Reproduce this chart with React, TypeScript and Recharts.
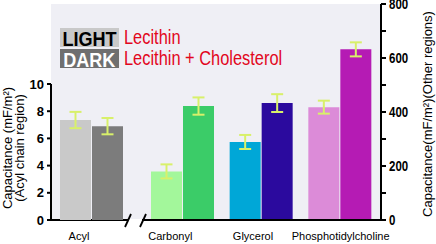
import {
    BarChart,
    Bar,
    XAxis,
    YAxis,
    ErrorBar,
    Cell,
    CartesianGrid,
    Legend,
    Customized,
} from "recharts";

// acyl chain region (left axis)
const acylNames = ["Acyl"];
const acylLight = [7.35];
const acylDark = [6.9];
const acylLightErr = [0.6];
const acylDarkErr = [0.6];

// other regions (right axis)
const regionNames = ["Carbonyl", "Glycerol", "Phosphotidylcholine"];
const lecithin = [180, 289, 418];
const lecithinChol = [422, 433, 632];
const lecithinErr = [26, 26, 24];
const lecithinCholErr = [32, 33, 26];

const leftTicks = [0, 2, 4, 6, 8, 10];
const rightTicks = [0, 100, 200, 300, 400, 500, 600, 700, 800];

const legendKeys = ["LIGHT", "DARK"];
const legendNames = ["Lecithin", "Lecithin + Cholesterol"];

const LIGHT_COLORS = ["#a3f79b", "#00a7d7", "#dc8bd8"];
const DARK_COLORS = ["#3bcc68", "#2b0a9e", "#b51bb4"];
const ACYL_LIGHT = "#c9c9c9";
const ACYL_DARK = "#7c7c7c";
const ERR = "#d8f06a";
const BG = "#efeff5";
const RED = "#e2061c";

const FONT = "'Liberation Sans', Arial, sans-serif";
// no narrow face installed, so condensed text is squeezed with scaleX
const SQUEEZE = 0.82;

const W = 436;
const H = 244;

// labels in the original sit a little off the group centres
const labelShift: Record<string, number> = {
    Acyl: -12,
    Carbonyl: -12,
    Glycerol: -8,
    Phosphotidylcholine: 1,
};

const acylRows = acylNames.map((name, i) => ({
    name,
    light: acylLight[i],
    dark: acylDark[i],
    lightErr: acylLightErr[i],
    darkErr: acylDarkErr[i],
}));

const regionRows = regionNames.map((name, i) => ({
    name,
    lecithin: lecithin[i],
    lecithinChol: lecithinChol[i],
    lecithinErr: lecithinErr[i],
    lecithinCholErr: lecithinCholErr[i],
}));

function CategoryTick({ x, y, payload }: any) {
    return (
        <text
            x={x + (labelShift[payload.value] ?? 0)}
            y={y}
            dy="0.71em"
            textAnchor="middle"
            fontFamily={FONT}
            fontSize={11}
            fill="#000"
        >
            {payload.value}
        </text>
    );
}

function RightTick({ x, y, payload }: any) {
    if (payload.value % 200 !== 0) return <g />;
    return (
        <text
            transform={`translate(${x},${y}) scale(${SQUEEZE},1)`}
            x={0}
            y={0}
            dy="0.36em"
            textAnchor="start"
            fontFamily={FONT}
            fontWeight={700}
            fontSize={14}
            fill="#000"
        >
            {payload.value}
        </text>
    );
}

function LeftLabel() {
    const cy = 148;
    return (
        <g fontFamily={FONT} fontSize={13} fill="#000">
            <text x={12} y={cy} transform={`rotate(-90 12 ${cy})`} textAnchor="middle">
                Capacitance (mF/m²)
            </text>
            <text x={23.5} y={cy} transform={`rotate(-90 23.5 ${cy})`} textAnchor="middle">
                (Acyl chain region)
            </text>
        </g>
    );
}

function RightLabel() {
    const cx = 432;
    const cy = 114;
    return (
        <text
            x={cx}
            y={cy}
            transform={`rotate(-90 ${cx} ${cy})`}
            textAnchor="middle"
            fontFamily={FONT}
            fontSize={13}
            fill="#000"
        >
            Capacitance(mF/m²)(Other regions)
        </text>
    );
}

function AxisBreak() {
    return (
        <g>
            <rect x={128} y={219} width={14} height={3} fill="#fff" />
            <line x1={125} y1={227} x2={131} y2={214} stroke="#000" strokeWidth={1.8} />
            <line x1={140} y1={227} x2={146} y2={214} stroke="#000" strokeWidth={1.8} />
        </g>
    );
}

function LegendBox() {
    return (
        <div style={{ fontFamily: FONT }}>
            {legendKeys.map((k, i) => (
                <div
                    key={k}
                    style={{
                        display: "flex",
                        alignItems: "center",
                        height: 19,
                        marginBottom: 2,
                    }}
                >
                    <div
                        style={{
                            display: "flex",
                            justifyContent: "center",
                            alignItems: "center",
                            width: 59,
                            height: 19,
                            flexShrink: 0,
                            background: i === 0 ? ACYL_LIGHT : "#6f6f6f",
                            color: i === 0 ? "#000" : "#fff",
                            fontWeight: 700,
                            fontSize: 21,
                            lineHeight: "19px",
                        }}
                    >
                        <span
                            style={{
                                display: "inline-block",
                                flexShrink: 0,
                                transform: "scaleX(0.86)",
                                transformOrigin: "center",
                                paddingTop: 1,
                            }}
                        >
                            {k}
                        </span>
                    </div>
                    <span
                        style={{
                            display: "inline-block",
                            color: RED,
                            fontSize: 20,
                            marginLeft: 5,
                            lineHeight: "19px",
                            whiteSpace: "nowrap",
                            transform: `scaleX(${SQUEEZE})`,
                            transformOrigin: "left center",
                        }}
                    >
                        {legendNames[i]}
                    </span>
                </div>
            ))}
        </div>
    );
}

export default function App() {
    return (
        <div
            style={{
                position: "absolute",
                left: 0,
                top: 0,
                width: W,
                height: H,
                background: "#fff",
            }}
        >
            <div style={{ position: "absolute", left: 0, top: 0 }}>
                <BarChart
                    width={W}
                    height={H}
                    data={regionRows}
                    margin={{ top: 4, right: 0, bottom: 0, left: 51 }}
                    barGap={1}
                >
                    <CartesianGrid
                        yAxisId="right"
                        fill={BG}
                        horizontal={false}
                        vertical={false}
                    />
                    <XAxis
                        dataKey="name"
                        padding={{ left: 92, right: 2 }}
                        height={24}
                        interval={0}
                        axisLine={{ stroke: "#000", strokeWidth: 2 }}
                        tickLine={false}
                        tickSize={6}
                        tickMargin={6}
                        tick={<CategoryTick />}
                    />
                    <YAxis
                        yAxisId="right"
                        orientation="right"
                        width={55}
                        domain={[0, 800]}
                        ticks={rightTicks}
                        interval={0}
                        axisLine={{ stroke: "#000", strokeWidth: 2 }}
                        tickLine={{ stroke: "#000", strokeWidth: 2 }}
                        tickSize={5}
                        tickMargin={3}
                        tick={<RightTick />}
                        label={RightLabel}
                    />
                    <Legend
                        layout="horizontal"
                        verticalAlign="middle"
                        align="center"
                        content={LegendBox}
                        wrapperStyle={{ left: 60, top: 28, width: 260, height: 44 }}
                    />
                    <Bar
                        yAxisId="right"
                        dataKey="lecithin"
                        barSize={31}
                        isAnimationActive={false}
                    >
                        {regionRows.map((_, i) => (
                            <Cell key={i} fill={LIGHT_COLORS[i]} />
                        ))}
                        <ErrorBar
                            dataKey="lecithinErr"
                            width={6}
                            strokeWidth={2}
                            stroke={ERR}
                        />
                    </Bar>
                    <Bar
                        yAxisId="right"
                        dataKey="lecithinChol"
                        barSize={31}
                        isAnimationActive={false}
                    >
                        {regionRows.map((_, i) => (
                            <Cell key={i} fill={DARK_COLORS[i]} />
                        ))}
                        <ErrorBar
                            dataKey="lecithinCholErr"
                            width={6}
                            strokeWidth={2}
                            stroke={ERR}
                        />
                    </Bar>
                </BarChart>
            </div>

            <div style={{ position: "absolute", left: 0, top: 0 }}>
                <BarChart
                    width={W}
                    height={H}
                    data={acylRows}
                    margin={{ top: 84, right: 305, bottom: 0, left: 0 }}
                    barGap={1}
                >
                    <XAxis
                        dataKey="name"
                        height={24}
                        axisLine={false}
                        tickLine={false}
                        tickSize={6}
                        tickMargin={6}
                        tick={<CategoryTick />}
                    />
                    <YAxis
                        width={51}
                        domain={[0, 10]}
                        ticks={leftTicks}
                        interval={0}
                        axisLine={{ stroke: "#000", strokeWidth: 2 }}
                        tickLine={{ stroke: "#000", strokeWidth: 2 }}
                        tickSize={4}
                        tickMargin={3}
                        tick={{
                            fill: "#000",
                            fontSize: 13,
                            fontWeight: 700,
                            fontFamily: FONT,
                        }}
                        label={LeftLabel}
                    />
                    <Bar
                        dataKey="light"
                        fill={ACYL_LIGHT}
                        barSize={31}
                        isAnimationActive={false}
                    >
                        <ErrorBar dataKey="lightErr" width={6} strokeWidth={2} stroke={ERR} />
                    </Bar>
                    <Bar
                        dataKey="dark"
                        fill={ACYL_DARK}
                        barSize={31}
                        isAnimationActive={false}
                    >
                        <ErrorBar dataKey="darkErr" width={6} strokeWidth={2} stroke={ERR} />
                    </Bar>
                    <Customized component={AxisBreak} />
                </BarChart>
            </div>
        </div>
    );
}
